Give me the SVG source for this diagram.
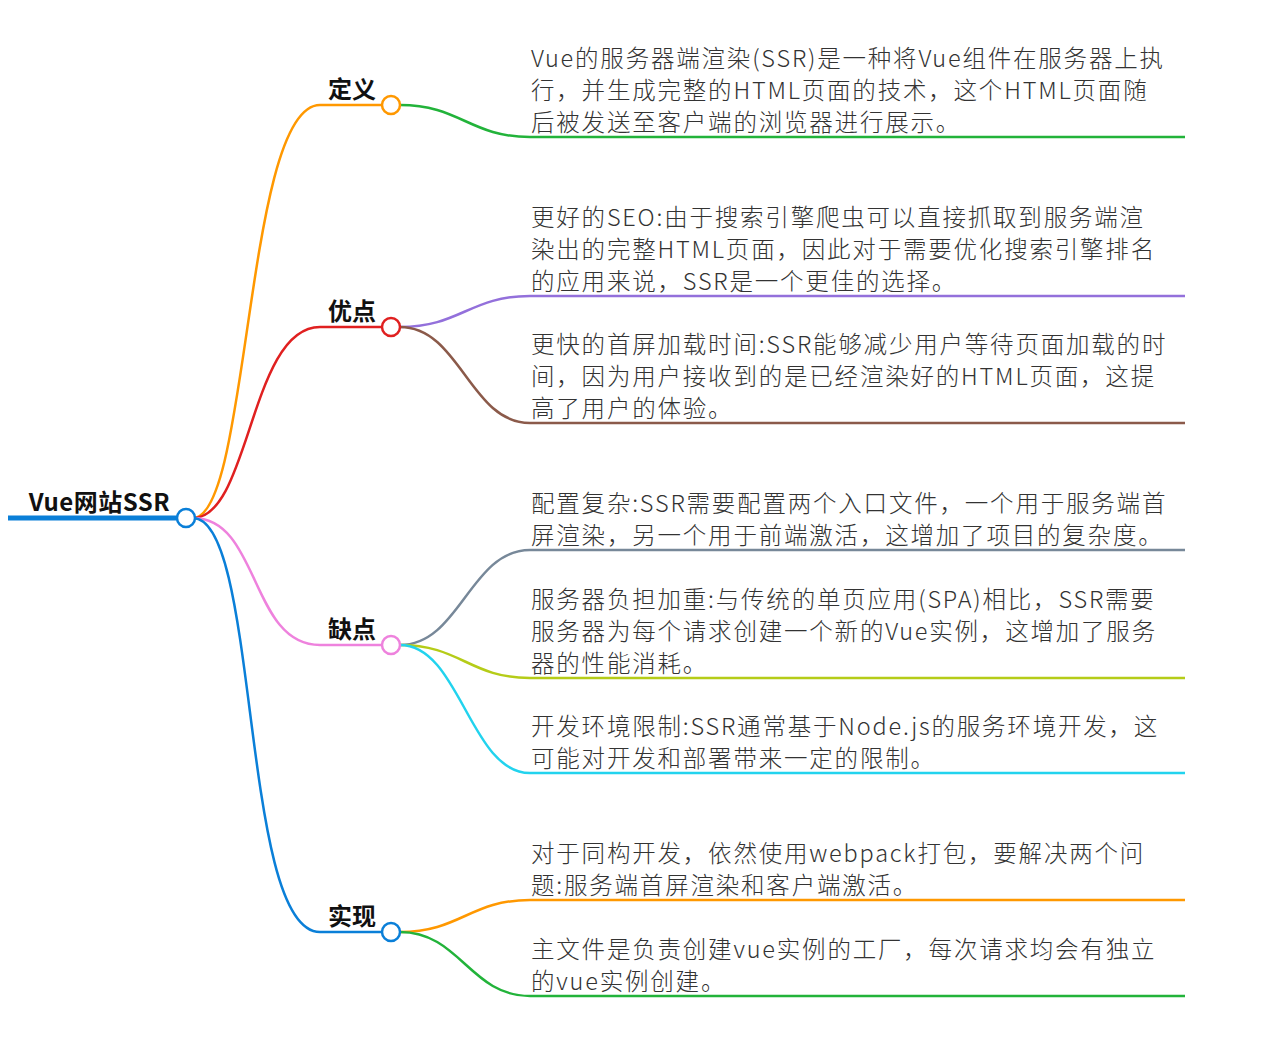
<svg xmlns="http://www.w3.org/2000/svg" width="1280" height="1040" viewBox="0 0 1280 1040">
<style>
.c{fill:none;stroke-width:2.5}
.t{font-family:"Noto Sans CJK SC","Noto Sans",sans-serif;font-size:23.5px;font-weight:300;fill:#333;letter-spacing:1.8px}
.b{font-family:"Noto Sans CJK SC","Noto Sans",sans-serif;font-size:24px;font-weight:700;fill:#111;text-anchor:end}
.n{fill:#fff;stroke-width:2.5}
</style>
<rect width="1280" height="1040" fill="#fff"/>
<g id="connectors">
<path class="c" stroke="#ff9800" d="M193,518 C250,518 245,105 320,105 L382,105"/>
<path class="c" stroke="#e02020" d="M193,518 C250,518 250,327 320,327 L382,327"/>
<path class="c" stroke="#ee82dd" d="M193,518 C260,518 250,645 320,645 L382,645"/>
<path class="c" stroke="#0a7fd8" d="M193,518 C260,518 240,932 320,932 L382,932"/>
<path class="c" stroke="#22b33a" d="M400,105 C460,105 470,137 530,137 L1185,137"/>
<path class="c" stroke="#9370db" d="M400,327 C460,327 470,296 530,296 L1185,296"/>
<path class="c" stroke="#8b5a4a" d="M400,327 C460,327 470,423 530,423 L1185,423"/>
<path class="c" stroke="#778899" d="M400,645 C460,645 470,550 530,550 L1185,550"/>
<path class="c" stroke="#b5cc18" d="M400,645 C460,645 470,678 530,678 L1185,678"/>
<path class="c" stroke="#22d3ee" d="M400,645 C460,645 470,773 530,773 L1185,773"/>
<path class="c" stroke="#ff9800" d="M400,932 C460,932 470,900 530,900 L1185,900"/>
<path class="c" stroke="#22b33a" d="M400,932 C460,932 470,996 530,996 L1185,996"/>
</g>
<g id="root">
<line x1="8" y1="518" x2="178" y2="518" stroke="#0a7fd8" stroke-width="5"/>
<circle class="n" cx="186" cy="518" r="9" stroke="#0a7fd8"/>
<text class="b" x="170" y="511" font-size="26" letter-spacing="0.5">Vue网站SSR</text>
</g>
<g id="n-def"><circle class="n" cx="391" cy="105" r="9" stroke="#ff9800"/><text class="b" x="376" y="98">定义</text></g>
<g id="n-adv"><circle class="n" cx="391" cy="327" r="9" stroke="#e02020"/><text class="b" x="376" y="320">优点</text></g>
<g id="n-dis"><circle class="n" cx="391" cy="645" r="9" stroke="#ee82dd"/><text class="b" x="376" y="638">缺点</text></g>
<g id="n-impl"><circle class="n" cx="391" cy="932" r="9" stroke="#0a7fd8"/><text class="b" x="376" y="925">实现</text></g>
<g id="l1"><text class="t" x="531" y="67">Vue的服务器端渲染(SSR)是一种将Vue组件在服务器上执</text><text class="t" x="531" y="99">行，并生成完整的HTML页面的技术，这个HTML页面随</text><text class="t" x="531" y="131">后被发送至客户端的浏览器进行展示。</text></g>
<g id="l2"><text class="t" x="531" y="226">更好的SEO:由于搜索引擎爬虫可以直接抓取到服务端渲</text><text class="t" x="531" y="258">染出的完整HTML页面，因此对于需要优化搜索引擎排名</text><text class="t" x="531" y="290">的应用来说，SSR是一个更佳的选择。</text></g>
<g id="l3"><text class="t" x="531" y="353">更快的首屏加载时间:SSR能够减少用户等待页面加载的时</text><text class="t" x="531" y="385">间，因为用户接收到的是已经渲染好的HTML页面，这提</text><text class="t" x="531" y="417">高了用户的体验。</text></g>
<g id="l4"><text class="t" x="531" y="512">配置复杂:SSR需要配置两个入口文件，一个用于服务端首</text><text class="t" x="531" y="544">屏渲染，另一个用于前端激活，这增加了项目的复杂度。</text></g>
<g id="l5"><text class="t" x="531" y="608">服务器负担加重:与传统的单页应用(SPA)相比，SSR需要</text><text class="t" x="531" y="640">服务器为每个请求创建一个新的Vue实例，这增加了服务</text><text class="t" x="531" y="672">器的性能消耗。</text></g>
<g id="l6"><text class="t" x="531" y="735">开发环境限制:SSR通常基于Node.js的服务环境开发，这</text><text class="t" x="531" y="767">可能对开发和部署带来一定的限制。</text></g>
<g id="l7"><text class="t" x="531" y="862">对于同构开发，依然使用webpack打包，要解决两个问</text><text class="t" x="531" y="894">题:服务端首屏渲染和客户端激活。</text></g>
<g id="l8"><text class="t" x="531" y="958">主文件是负责创建vue实例的工厂，每次请求均会有独立</text><text class="t" x="531" y="990">的vue实例创建。</text></g>
</svg>
